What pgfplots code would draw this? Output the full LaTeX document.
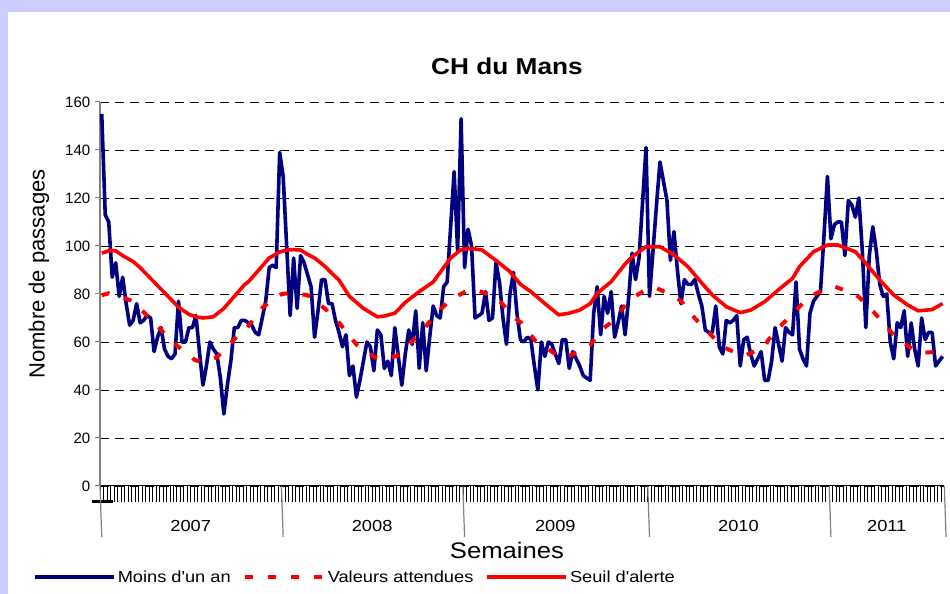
\documentclass[border=0pt]{standalone}
\usepackage{pgfplots}
\pgfplotsset{compat=1.18}
\usepackage{fontspec}
\setmainfont{Liberation Sans}
\newfontfamily\wfont[FakeStretch=1.14]{Liberation Sans}
\definecolor{navyb}{RGB}{0,0,128}
\definecolor{lav}{RGB}{204,204,255}
\definecolor{axgray}{RGB}{128,128,128}

\pgfplotstableread{
w v
0 155
1 113
2 110
3 87
4 93
5 79
6 87
7 76
8 67
9 69
10 76
11 68
12 69
13 71
14 70
15 56
16 62
17 66
18 57
19 54
20 53
21 55
22 77
23 60
24 60
25 66
26 66
27 71
28 56
29 42
30 50
31 60
32 57
33 55
34 45
35 30
36 42
37 52
38 66
39 66
40 69
41 69
42 68
43 67
44 64
45 63
46 70
47 77
48 91
49 92
50 91
51 139
52 129
53 100
54 71
55 95
56 74
57 96
58 93
59 88
60 83
61 62
62 73
63 86
64 86
65 76
66 76
67 69
68 64
69 58
70 63
71 46
72 50
73 37
74 44
75 52
76 60
77 58
78 48
79 65
80 63
81 49
82 52
83 46
84 66
85 54
86 42
87 55
88 65
89 59
90 73
91 49
92 68
93 48
94 62
95 75
96 71
97 70
98 83
99 85
100 108
101 131
102 98
103 153
104 91
105 107
106 100
107 70
108 71
109 72
110 81
111 69
112 70
113 93
114 85
115 70
116 59
117 80
118 89
119 72
120 61
121 60
122 62
123 61
124 50
125 40
126 60
127 54
128 60
129 59
130 55
131 51
132 61
133 61
134 49
135 56
136 53
137 50
138 46
139 45
140 44
141 72
142 83
143 63
144 79
145 72
146 81
147 62
148 68
149 75
150 63
151 78
152 97
153 86
154 95
155 118
156 141
157 79
158 98
159 117
160 135
161 127
162 119
163 94
164 106
165 90
166 76
167 86
168 84
169 84
170 86
171 80
172 75
173 65
174 64
175 64
176 75
177 58
178 55
179 69
180 68
181 69
182 71
183 50
184 61
185 62
186 55
187 50
188 53
189 56
190 44
191 44
192 52
193 66
194 59
195 52
196 66
197 64
198 63
199 85
200 57
201 53
202 50
203 72
204 77
205 79
206 81
207 104
208 129
209 103
210 109
211 110
212 110
213 96
214 119
215 117
216 112
217 120
218 98
219 66
220 96
221 108
222 98
223 84
224 79
225 80
226 60
227 53
228 68
229 66
230 73
231 54
232 68
233 57
234 50
235 70
236 61
237 64
238 64
239 50
240 52
241 54
}\moins

\pgfplotstableread{
w v
0 79.5
2 80.3
8 77.5
9.5 76
14.3 69.2
15.8 67
20.1 60.1
22 58
26.7 52.5
28.2 51.8
33 53.6
34.9 56.7
38.7 62.2
41.1 65
44.9 72
46.3 74.7
51.6 80
53.5 80.3
58.8 79.6
60.6 78.2
65.4 72
67.4 69.2
71.2 62.2
73.1 58.8
78.3 53.6
80.2 52.8
84.5 54.2
86.9 57.4
92.2 65
93.6 67.8
97.9 74.7
99.8 77.5
105.1 81.7
107.5 81.7
112.2 78.9
114.2 76.8
118.5 69.9
120.4 67.8
124.2 60.6
126.2 58.8
131.4 53.6
133.3 53.6
138.1 57.4
140 58.8
143.8 65.7
145.7 67.8
150.5 76
151.4 77.8
156.7 82.4
159.1 82.4
164.3 78.9
166.2 76.8
170 69.9
171.9 67
176.2 60.6
178.1 58
182.9 54.6
184.8 54.6
190.1 58
191 60.8
195.3 67.8
196.8 69.9
201.6 77.2
203.4 79.2
207.8 82.4
210.2 83
215.4 80.3
216.9 78.9
221.2 72.6
223.1 69.4
227.4 62.2
229.4 60.1
233.7 55.6
236.1 55.6
241 56
}\attendues

\pgfplotstableread{
w v
0 97
2 98
4 98
6 96
9 93.5
11 91
14 86.5
17 82
19 79
22 74.5
25 71.5
27 70.5
29 70
32 70.5
35 74
38 79
41 84
42 85
45 90
48 95
51 97.5
53 98.3
55 98.5
57 98.3
59 96.5
61 95
64 91.5
66 88.5
68 85.8
71 79
75 74
79 70.5
81 70.8
84 72
87 76.5
91 81
95 85
98 91
100 95
103 98.5
106 99
109 98.3
113 94
117 89.3
120 84
123 81
127 76
131 71.3
134 72
137 73.3
140 76
142 80.3
146 85.1
150 92.5
152 95.5
156 99.7
160 99.7
164 96.3
168 91.4
172 84.5
175 79.6
179 74.7
183 72.2
186 73.3
190 76.8
195 83
198 86.5
200 91.4
204 97.6
208 100.4
211 100.4
216 97.6
219 92.8
223 85.8
227 79.6
231 75.4
234 73
238 73.5
241 76
}\seuil

\begin{document}
\begin{tikzpicture}[x=1bp,y=1bp]
\useasboundingbox (0,0) rectangle (950,594);
\fill[lav] (0,0) rectangle (950,594);
\fill[white] (8,0) rectangle (950,582);
\draw[black, line width=3bp] (92.3,92.3) -- (112.7,92.3);
\begin{axis}[
  at={(100bp,108bp)}, anchor=south west,
  scale only axis, width=844.3bp, height=384bp,
  xmin=-0.5, xmax=241.5, ymin=0, ymax=160,
  axis x line*=bottom, axis y line*=left,
  x axis line style={black, line width=1bp},
  y axis line style={axgray, line width=1.6bp},
  clip=false,
  tick align=outside,
  xtick={-0.5,0.5,...,241.5},
  xticklabels={},
  xtick style={black, line width=0.55bp, /pgfplots/major tick length=16bp},
  ytick={0,20,...,160},
  ytick style={axgray, line width=1bp, /pgfplots/major tick length=5bp},
  yticklabel style={font=\fontsize{15bp}{18bp}\selectfont, anchor=east, xshift=-2bp},
  /pgf/number format/assume math mode=true,
  ymajorgrids,
  grid style={black, line width=0.9bp, dash pattern=on 9bp off 6bp},
  title={CH du Mans},
  title style={at={(0.482,1.091)}, anchor=center, yshift=-5bp, font=\wfont\bfseries\fontsize{23bp}{26bp}\selectfont},
  xlabel={Semaines},
  xlabel style={at={(0.482,-0.169)}, anchor=center, font=\wfont\fontsize{22.5bp}{26bp}\selectfont},
  ylabel={Nombre de passages},
  ylabel style={at={(-0.0722,0.552)}, anchor=center, font=\fontsize{22bp}{26bp}\selectfont},
  legend columns=3,
  legend image code/.code={\draw[#1] (0bp,0bp) -- (79bp,0bp);},
  legend style={at={(-0.0794,-0.237)}, anchor=west, draw=none, fill=none,
    font=\wfont\fontsize{16bp}{18bp}\selectfont, inner sep=0pt,
    /tikz/every even column/.append style={column sep=10bp},
    nodes={inner sep=2bp}},
  legend cell align=left,
]
\addplot[navyb, line width=3.6bp, line join=round] table[x=w,y=v] {\moins};
\addlegendentry{Moins d'un an}
\addplot[red, line width=4bp, dash pattern=on 8bp off 15bp] table[x=w,y=v] {\attendues};
\addlegendentry{Valeurs attendues}
\addplot[red, line width=3.6bp, line join=round] table[x=w,y=v] {\seuil};
\addlegendentry{Seuil d'alerte}
\pgfplotsinvokeforeach{-0.5,51.5,103.5,156.5,208.5,241.5}{
  \draw[axgray, line width=1.2bp] (axis cs:#1,0) -- ++(0,-51bp);
}
\node[font=\wfont\fontsize{16bp}{18bp}\selectfont] at (axis cs:25.5,0) [yshift=-40bp] {2007};
\node[font=\wfont\fontsize{16bp}{18bp}\selectfont] at (axis cs:77.5,0) [yshift=-40bp] {2008};
\node[font=\wfont\fontsize{16bp}{18bp}\selectfont] at (axis cs:130,0) [yshift=-40bp] {2009};
\node[font=\wfont\fontsize{16bp}{18bp}\selectfont] at (axis cs:182.5,0) [yshift=-40bp] {2010};
\node[font=\wfont\fontsize{16bp}{18bp}\selectfont] at (axis cs:225,0) [yshift=-40bp] {2011};
\end{axis}
\end{tikzpicture}
\end{document}
